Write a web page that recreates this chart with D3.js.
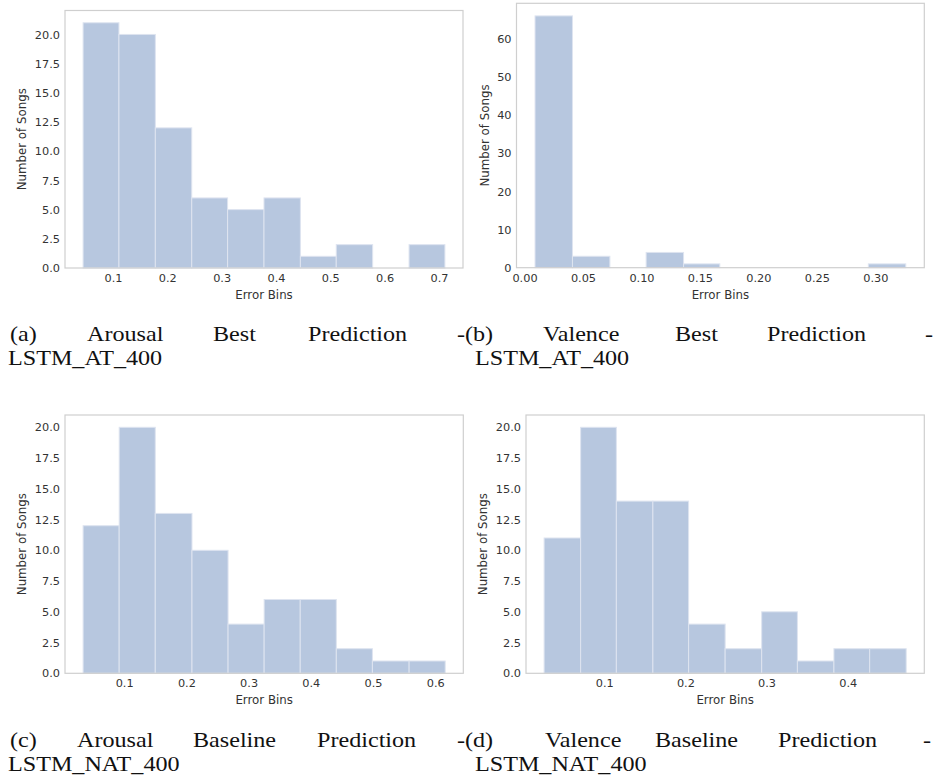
<!DOCTYPE html>
<html><head><meta charset="utf-8">
<script src="https://cdn.jsdelivr.net/npm/d3@7"></script>
<style>body{margin:0;background:#fff}svg{display:block}</style>
</head><body>
<svg id="c" width="933" height="783"></svg>
<script>
// ---- data ----
const countsA = [21, 20, 12, 6, 5, 6, 1, 2, 0, 2];
const edgesA  = [0.045, 0.111, 0.178, 0.245, 0.311, 0.378, 0.445, 0.511, 0.578, 0.645, 0.711];
const xTicksA = [0.1, 0.2, 0.3, 0.4, 0.5, 0.6, 0.7];
const yTicksA = [0, 2.5, 5, 7.5, 10, 12.5, 15, 17.5, 20];

const countsB = [66, 3, 0, 4, 1, 0, 0, 0, 0, 1];
const edgesB  = [0.009, 0.041, 0.073, 0.104, 0.136, 0.167, 0.199, 0.231, 0.262, 0.294, 0.326];
const xTicksB = [0, 0.05, 0.10, 0.15, 0.20, 0.25, 0.30];
const yTicksB = [0, 10, 20, 30, 40, 50, 60];

const countsC = [12, 20, 13, 10, 4, 6, 6, 2, 1, 1];
const edgesC  = [0.034, 0.092, 0.150, 0.209, 0.267, 0.325, 0.383, 0.441, 0.499, 0.558, 0.616];
const xTicksC = [0.1, 0.2, 0.3, 0.4, 0.5, 0.6];
const yTicksC = [0, 2.5, 5, 7.5, 10, 12.5, 15, 17.5, 20];

const countsD = [11, 20, 14, 14, 4, 2, 5, 1, 2, 2];
const edgesD  = [0.026, 0.071, 0.115, 0.160, 0.204, 0.249, 0.294, 0.338, 0.383, 0.427, 0.472];
const xTicksD = [0.1, 0.2, 0.3, 0.4];
const yTicksD = [0, 2.5, 5, 7.5, 10, 12.5, 15, 17.5, 20];

const xLabel = "Error Bins";
const yLabel = "Number of Songs";

// ---- layout ----
const panels = [
  {counts: countsA, edges: edgesA, xt: xTicksA, yt: yTicksA, xf: ".1f", yf: ".1f", L: 65, T: 10.5, R: 463, B: 268},
  {counts: countsB, edges: edgesB, xt: xTicksB, yt: yTicksB, xf: ".2f", yf: "d",   L: 516.5, T: 3.3, R: 924.3, B: 267.7},
  {counts: countsC, edges: edgesC, xt: xTicksC, yt: yTicksC, xf: ".1f", yf: ".1f", L: 65, T: 415, R: 463.3, B: 673.3},
  {counts: countsD, edges: edgesD, xt: xTicksD, yt: yTicksD, xf: ".1f", yf: ".1f", L: 526, T: 415, R: 924.3, B: 673.3}
];

const captions = [
  {y: 340.5, words: [["(a)",10],["Arousal",87],["Best",213],["Prediction",308],["-",457]]},
  {y: 340.5, words: [["(b)",465],["Valence",543],["Best",675],["Prediction",767],["-",925]]},
  {y: 364.5, words: [["LSTM_AT_400",8],["LSTM_AT_400",475]]},
  {y: 746.5, words: [["(c)",10],["Arousal",77],["Baseline",193],["Prediction",317],["-",457]]},
  {y: 746.5, words: [["(d)",465],["Valence",545],["Baseline",655],["Prediction",778],["-",923]]},
  {y: 770.5, words: [["LSTM_NAT_400",8],["LSTM_NAT_400",475]]}
];

const svg = d3.select("#c");
const barFill = "rgb(183,199,223)";
const barEdge = "rgb(222,228,240)";
const frameCol = "#cfcfcf";
const textCol = "#333";
const sans = "'DejaVu Sans', sans-serif";

panels.forEach(p => {
  const n = p.edges.length - 1;
  const lo = p.edges[0], hi = p.edges[n];
  const pad = (hi - lo) * 0.05;
  const x = d3.scaleLinear().domain([lo - pad, hi + pad]).range([p.L, p.R]);
  const y = d3.scaleLinear().domain([0, d3.max(p.counts) * 1.05]).range([p.B, p.T]);
  const g = svg.append("g");

  const bins = p.counts.map((c, i) => ({c, x0: p.edges[i], x1: p.edges[i + 1]})).filter(d => d.c > 0);
  g.selectAll("rect.bar").data(bins).join("rect")
    .attr("class", "bar")
    .attr("x", d => x(d.x0))
    .attr("width", d => x(d.x1) - x(d.x0))
    .attr("y", d => y(d.c))
    .attr("height", d => y(0) - y(d.c))
    .attr("fill", barFill)
    .attr("stroke", barEdge)
    .attr("stroke-width", 1);

  // frame
  g.append("rect").attr("x", p.L).attr("y", p.T).attr("width", p.R - p.L).attr("height", p.B - p.T)
    .attr("fill", "none").attr("stroke", frameCol).attr("stroke-width", 1.2);

  const xa = g.append("g").attr("transform", `translate(0,${p.B})`)
    .call(d3.axisBottom(x).tickValues(p.xt).tickSize(0).tickPadding(6).tickFormat(d3.format(p.xf)));
  const ya = g.append("g").attr("transform", `translate(${p.L},0)`)
    .call(d3.axisLeft(y).tickValues(p.yt).tickSize(0).tickPadding(5).tickFormat(d3.format(p.yf)));
  [xa, ya].forEach(a => {
    a.select(".domain").remove();
    a.selectAll("text").attr("font-family", sans).attr("font-size", 11.3).attr("fill", textCol);
  });

  let maxW = 0;
  ya.selectAll("text").each(function() { maxW = Math.max(maxW, this.getComputedTextLength()); });

  g.append("text").attr("x", (p.L + p.R) / 2).attr("y", p.B + 31)
    .attr("text-anchor", "middle").attr("font-family", sans).attr("font-size", 11.8)
    .attr("fill", textCol).text(xLabel);

  const yx = p.L - 5 - maxW - 8.5;
  g.append("text").attr("transform", `translate(${yx},${(p.T + p.B) / 2}) rotate(-90)`)
    .attr("text-anchor", "middle").attr("font-family", sans).attr("font-size", 11.8)
    .attr("fill", textCol).text(yLabel);
});

const cap = svg.append("g").attr("font-family", "'Liberation Serif', serif").attr("font-size", 21).attr("fill", "#111");
captions.forEach(line => {
  line.words.forEach(w => {
    cap.append("text").attr("transform", `translate(${w[1]},${line.y}) scale(1.15,1)`).text(w[0]);
  });
});
</script>
</body></html>
